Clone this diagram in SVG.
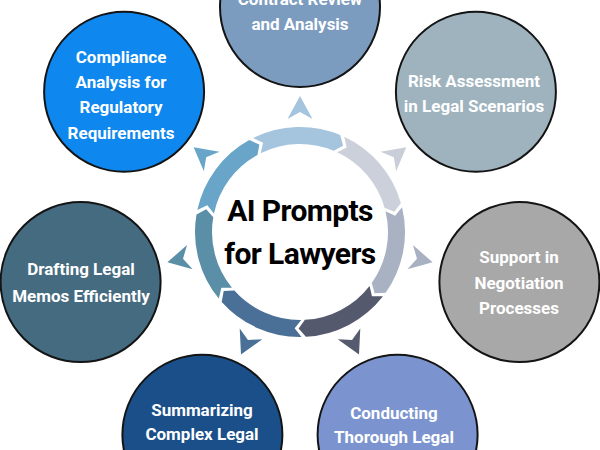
<svg xmlns="http://www.w3.org/2000/svg" xmlns:xlink="http://www.w3.org/1999/xlink" width="600" height="450" viewBox="0 0 600 450">
<style>
.node{stroke:#141414;stroke-width:2}
.lbl{font-family:Roboto,"Liberation Sans",Arial,sans-serif;font-weight:bold;font-size:17px;fill:#ffffff;text-anchor:middle}
.title{font-family:Roboto,"Liberation Sans",Arial,sans-serif;font-weight:bold;font-size:30px;letter-spacing:-0.6px;fill:#000000;text-anchor:middle}
</style>
<defs>
<path id="seg" d="M93.96,-46.87 A105,105 0 0 1 97.00,40.21 L86.35,43.08 L81.29,33.70 A88,88 0 0 0 78.75,-39.29 L89.15,-36.95 Z"/>
<path id="dart" d="M136,0 L113,-12.5 L120,0 L113,12.5 Z"/>
</defs>
<rect width="600" height="450" fill="#ffffff"/>
<g id="ring">
<use xlink:href="#seg" href="#seg" transform="translate(300,232) rotate(270)" fill="#a5c4de"/>
<use xlink:href="#seg" href="#seg" transform="translate(300,232) rotate(321.43)" fill="#cbd0da"/>
<use xlink:href="#seg" href="#seg" transform="translate(300,232) rotate(12.86)" fill="#a8b2c3"/>
<use xlink:href="#seg" href="#seg" transform="translate(300,232) rotate(64.29)" fill="#55596d"/>
<use xlink:href="#seg" href="#seg" transform="translate(300,232) rotate(115.71)" fill="#4a7098"/>
<use xlink:href="#seg" href="#seg" transform="translate(300,232) rotate(167.14)" fill="#5a8fa7"/>
<use xlink:href="#seg" href="#seg" transform="translate(300,232) rotate(218.57)" fill="#69a5c8"/>
</g>
<g id="connectors">
<use xlink:href="#dart" href="#dart" transform="translate(300,232) rotate(270)" fill="#a5c4de"/>
<use xlink:href="#dart" href="#dart" transform="translate(300,232) rotate(321.43)" fill="#c9ced8"/>
<use xlink:href="#dart" href="#dart" transform="translate(300,232) rotate(12.86)" fill="#a8b1c2"/>
<use xlink:href="#dart" href="#dart" transform="translate(300,232) rotate(64.29)" fill="#555a6e"/>
<use xlink:href="#dart" href="#dart" transform="translate(300,232) rotate(115.71)" fill="#4a7098"/>
<use xlink:href="#dart" href="#dart" transform="translate(300,232) rotate(167.14)" fill="#5a8fa7"/>
<use xlink:href="#dart" href="#dart" transform="translate(300,232) rotate(218.57)" fill="#69a5c8"/>
</g>
<g id="center">
<text class="title" x="300" y="221">AI Prompts</text>
<text class="title" x="300" y="264">for Lawyers</text>
</g>
<g id="node-contract">
<circle class="node" cx="300" cy="7" r="80" fill="#7c9cbf"/>
<text class="lbl" x="300" y="5">Contract Review</text>
<text class="lbl" x="300" y="30">and Analysis</text>
</g>
<g id="node-risk">
<circle class="node" cx="475.9" cy="91.7" r="80" fill="#9eb3be"/>
<text class="lbl" x="474" y="87">Risk Assessment</text>
<text class="lbl" x="474" y="112">in Legal Scenarios</text>
</g>
<g id="node-support">
<circle class="node" cx="519.4" cy="282.1" r="80" fill="#a8a8a8"/>
<text class="lbl" x="519" y="263">Support in</text>
<text class="lbl" x="519" y="289">Negotiation</text>
<text class="lbl" x="519" y="314">Processes</text>
</g>
<g id="node-conducting">
<circle class="node" cx="397.6" cy="434.7" r="80" fill="#7b94cf"/>
<text class="lbl" x="394" y="419">Conducting</text>
<text class="lbl" x="394" y="443">Thorough Legal</text>
</g>
<g id="node-summarizing">
<circle class="node" cx="202.4" cy="434.7" r="80" fill="#1b4f89"/>
<text class="lbl" x="202" y="416">Summarizing</text>
<text class="lbl" x="202" y="440">Complex Legal</text>
</g>
<g id="node-drafting">
<circle class="node" cx="80.6" cy="282.1" r="80" fill="#456b80"/>
<text class="lbl" x="81" y="275">Drafting Legal</text>
<text class="lbl" x="81" y="302">Memos Efficiently</text>
</g>
<g id="node-compliance">
<circle class="node" cx="124.1" cy="91.7" r="80" fill="#0e87ef"/>
<text class="lbl" x="121" y="63">Compliance</text>
<text class="lbl" x="121" y="88">Analysis for</text>
<text class="lbl" x="121" y="113">Regulatory</text>
<text class="lbl" x="121" y="139">Requirements</text>
</g>
</svg>
